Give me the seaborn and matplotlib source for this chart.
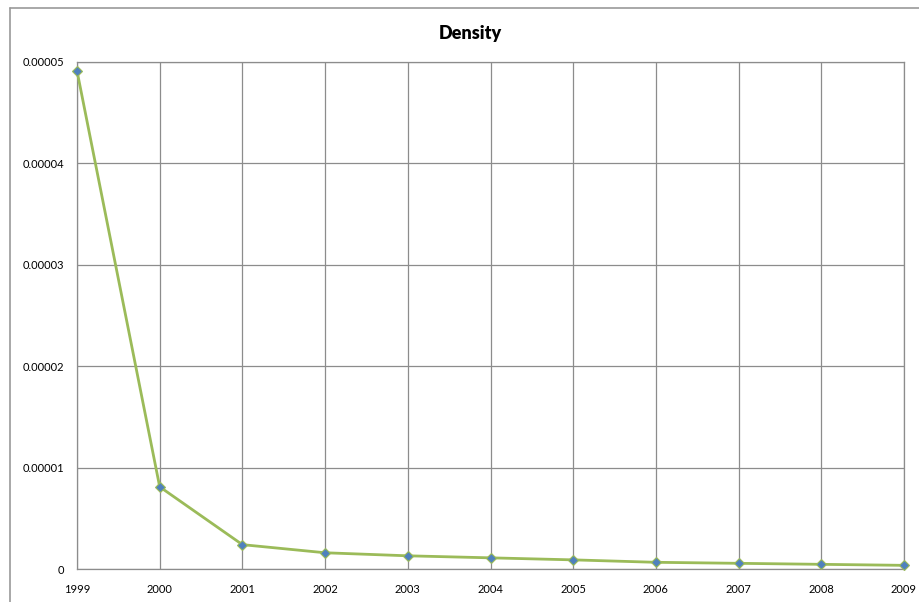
import matplotlib
matplotlib.use("Agg")
import matplotlib.pyplot as plt
from matplotlib.lines import Line2D
from matplotlib.ticker import FuncFormatter
import seaborn as sns
import pandas as pd

# Yearly density values
years = [1999, 2000, 2001, 2002, 2003, 2004, 2005, 2006, 2007, 2008, 2009]
density = [0.0000491, 0.0000081, 0.0000024, 0.0000016, 0.0000013, 0.0000011,
           0.0000009, 0.00000066, 0.00000056, 0.00000046, 0.00000036]
y_ticks = [0, 0.00001, 0.00002, 0.00003, 0.00004, 0.00005]

sns.set_theme(style="white")
plt.rcParams["font.family"] = ["Lato", "DejaVu Sans"]

W, H = 919, 602
fig = plt.figure(figsize=(W / 100, H / 100), dpi=100)
ax = fig.add_axes([77 / W, 1 - 569 / H, (904 - 77) / W, (569 - 61.7) / H])

df = pd.DataFrame({"year": years, "density": density})
sns.lineplot(data=df, x="year", y="density", ax=ax, color="#9BBB59",
             linewidth=2.0, marker="D", markersize=5.5,
             markerfacecolor="#4F81BD", markeredgecolor="#9BBB59",
             markeredgewidth=0.8, zorder=3, clip_on=False)

grid_c = "#8C8C8C"
ax.set_xlim(years[0], years[-1])
ax.set_ylim(0, 0.00005)
ax.set_xticks(years)
ax.set_yticks(y_ticks)
ax.yaxis.set_major_formatter(FuncFormatter(lambda v, p: "0" if v == 0 else f"{v:.5f}"))
ax.grid(True, color=grid_c, linewidth=0.9)
ax.set_axisbelow(True)
for s in ax.spines.values():
    s.set_color(grid_c)
    s.set_linewidth(0.9)
ax.tick_params(axis="both", labelsize=8, colors="black", length=4, width=0.9,
               direction="out")
ax.tick_params(axis="x", color=grid_c, pad=7)
ax.tick_params(axis="y", color=grid_c, pad=5)
ax.set_xlabel("")
ax.set_ylabel("")

fig.text(470 / W, 1 - 33 / H, "Density", ha="center", va="center",
         fontsize=13, fontweight="heavy", color="black")

# Chart-area frame
fig.add_artist(Line2D([10 / W, 10 / W], [0, 1 - 8 / H], transform=fig.transFigure,
                      color="#999999", linewidth=1.2))
fig.add_artist(Line2D([10 / W, 1], [1 - 8 / H, 1 - 8 / H], transform=fig.transFigure,
                      color="#999999", linewidth=1.2))

fig.savefig("out.png", dpi=100, facecolor="white")
